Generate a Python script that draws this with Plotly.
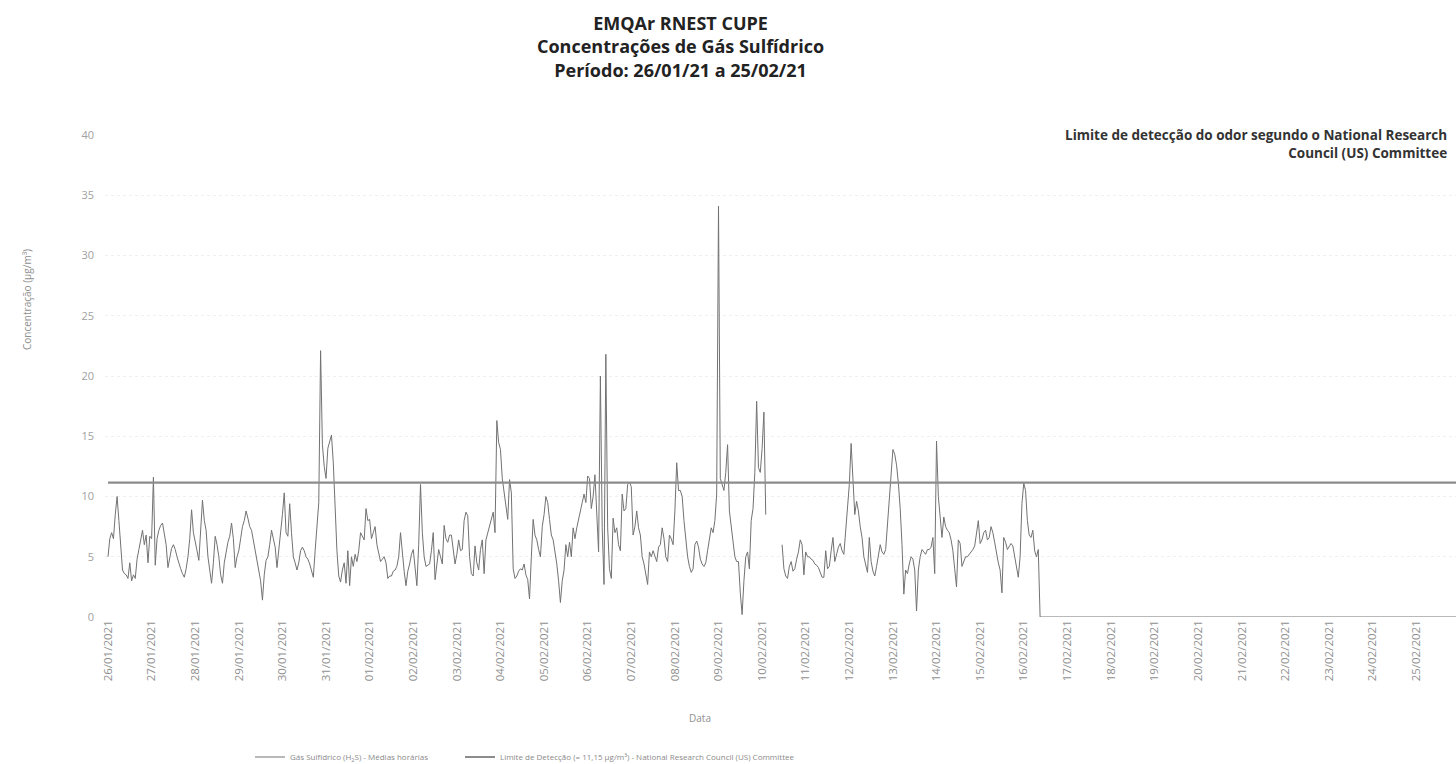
import pandas as pd
import plotly.graph_objects as go

# ---------------- data (hourly means, µg/m³) ----------------
day_labels = ["26/01/2021", "27/01/2021", "28/01/2021", "29/01/2021", "30/01/2021",
              "31/01/2021", "01/02/2021", "02/02/2021", "03/02/2021", "04/02/2021",
              "05/02/2021", "06/02/2021", "07/02/2021", "08/02/2021", "09/02/2021",
              "10/02/2021", "11/02/2021", "12/02/2021", "13/02/2021", "14/02/2021",
              "15/02/2021", "16/02/2021", "17/02/2021", "18/02/2021", "19/02/2021",
              "20/02/2021", "21/02/2021", "22/02/2021", "23/02/2021", "24/02/2021",
              "25/02/2021"]

d26_01 = [5.0, 6.5, 7.0, 6.5, 8.5, 10.0, 8.0, 5.5, 3.9, 3.6, 3.5, 3.2, 4.5, 3.0, 3.5, 3.2, 4.8, 5.6, 6.5, 7.2, 6.0, 6.8, 4.5, 6.7]
d27_01 = [6.5, 11.6, 4.3, 6.5, 7.2, 7.6, 7.8, 7.0, 6.0, 4.1, 5.0, 5.7, 6.0, 5.6, 5.0, 4.4, 4.0, 3.6, 3.3, 4.0, 5.0, 6.5, 8.9, 7.0]
d28_01 = [6.1, 5.5, 4.7, 7.5, 9.7, 8.0, 7.2, 5.0, 4.0, 2.8, 4.5, 6.7, 6.0, 5.0, 3.5, 2.8, 4.5, 5.5, 6.2, 6.7, 7.8, 6.5, 4.1, 5.0]
d29_01 = [5.5, 6.5, 7.5, 8.0, 8.8, 8.2, 7.5, 7.2, 6.3, 5.5, 4.5, 3.9, 3.0, 1.4, 3.5, 4.7, 5.0, 6.0, 7.2, 6.5, 5.8, 4.1, 5.5, 6.7]
d30_01 = [8.5, 10.3, 7.0, 6.7, 9.4, 7.0, 5.0, 4.5, 3.9, 4.5, 5.5, 5.8, 5.5, 5.0, 4.8, 4.4, 3.8, 3.3, 5.5, 7.2, 9.5, 22.1, 14.3, 12.5]
d31_01 = [11.5, 14.0, 14.5, 15.1, 12.8, 9.0, 5.5, 3.4, 2.9, 3.9, 4.5, 2.8, 5.5, 2.6, 5.0, 4.2, 5.2, 4.6, 5.5, 7.0, 6.7, 6.4, 9.0, 8.0]
d01_02 = [8.1, 6.5, 7.0, 7.5, 6.0, 5.4, 4.6, 4.8, 5.0, 4.5, 3.2, 3.4, 3.4, 3.8, 3.9, 4.2, 5.0, 7.0, 5.0, 3.8, 2.6, 3.8, 4.4, 5.2]
d02_02 = [5.6, 4.0, 2.6, 6.0, 11.0, 7.0, 5.0, 4.2, 4.3, 4.4, 5.5, 7.0, 3.1, 4.5, 5.6, 5.0, 4.4, 7.6, 6.5, 6.2, 6.8, 6.8, 5.5, 4.4]
d03_02 = [5.2, 6.4, 5.5, 5.6, 8.0, 8.7, 8.4, 5.0, 3.6, 3.4, 5.9, 4.5, 3.9, 5.6, 6.4, 3.6, 6.4, 7.0, 7.6, 8.3, 8.7, 7.0, 16.3, 14.5]
d04_02 = [13.9, 11.5, 10.3, 9.5, 8.1, 11.4, 10.3, 4.0, 3.2, 3.4, 3.8, 4.0, 3.9, 4.4, 3.5, 3.1, 1.5, 5.0, 8.1, 6.8, 6.4, 5.6, 5.0, 7.5]
d05_02 = [8.5, 10.0, 9.5, 8.1, 6.8, 6.4, 5.5, 4.4, 3.0, 1.2, 3.0, 3.9, 6.0, 5.0, 6.2, 5.0, 7.4, 6.5, 7.4, 8.2, 8.8, 9.5, 10.2, 9.5]
d06_02 = [11.7, 11.5, 9.0, 10.0, 11.8, 8.8, 5.4, 20.0, 7.4, 2.7, 21.8, 7.4, 4.0, 3.2, 8.2, 7.0, 7.4, 6.0, 5.5, 10.2, 8.8, 9.0, 11.0, 11.2]
d07_02 = [10.8, 6.8, 7.5, 8.8, 7.4, 6.8, 5.0, 4.4, 3.5, 2.7, 5.4, 5.0, 5.5, 5.0, 4.6, 5.8, 6.0, 7.4, 6.5, 5.0, 4.6, 6.8, 6.5, 6.0]
d08_02 = [8.8, 12.8, 10.5, 10.5, 10.0, 8.0, 6.5, 5.0, 4.2, 3.7, 4.0, 6.0, 6.3, 5.8, 4.8, 4.4, 4.2, 4.5, 5.5, 6.5, 7.4, 7.0, 8.0, 10.2]
d09_02 = [34.1, 11.5, 11.0, 10.5, 12.0, 14.3, 8.8, 7.4, 6.5, 5.0, 4.6, 4.6, 2.0, 0.2, 3.0, 5.0, 5.4, 4.0, 8.0, 9.0, 12.0, 17.9, 12.4, 12.0]
d10_02 = [14.0, 17.0, 8.5, None, None, None, None, None, None, None, None, 6.0, 4.0, 3.4, 3.2, 4.2, 4.6, 3.8, 4.0, 4.8, 5.4, 6.4, 6.0, 3.5]
d11_02 = [5.4, 5.0, 5.0, 4.8, 4.7, 4.4, 4.3, 4.1, 3.6, 3.3, 3.3, 5.5, 4.0, 4.2, 5.5, 6.6, 4.6, 5.2, 5.8, 6.1, 5.5, 5.2, 7.2, 9.0]
d12_02 = [11.0, 14.4, 11.0, 8.5, 9.6, 8.8, 7.5, 6.6, 5.0, 4.2, 3.7, 6.6, 4.6, 3.8, 3.4, 4.2, 5.0, 6.0, 5.4, 5.2, 5.6, 7.5, 9.8, 12.0]
d13_02 = [13.9, 13.5, 12.6, 11.1, 9.0, 6.0, 1.9, 3.9, 3.6, 4.4, 5.0, 4.8, 3.9, 0.5, 3.9, 5.0, 5.6, 5.4, 5.2, 5.6, 5.6, 5.8, 6.6, 3.6]
d14_02 = [14.6, 10.0, 8.5, 6.6, 8.3, 7.5, 7.2, 7.0, 6.4, 5.5, 4.0, 2.5, 6.4, 6.1, 4.2, 4.6, 5.0, 5.0, 5.2, 5.3, 5.6, 5.9, 7.0, 8.0]
d15_02 = [6.1, 6.4, 7.0, 7.2, 6.4, 6.6, 7.5, 7.0, 6.2, 5.3, 4.5, 3.9, 2.0, 6.6, 6.2, 5.6, 5.8, 6.1, 5.9, 5.0, 4.4, 3.3, 5.0, 9.4]
d16_02 = [11.1, 10.5, 8.0, 6.8, 6.6, 7.2, 5.5, 5.0, 5.6, 0, 0, 0, 0, 0, 0, 0, 0, 0, 0, 0, 0, 0, 0, 0]
d17_02 = [0, 0, 0, 0, 0, 0, 0, 0, 0, 0, 0, 0, 0, 0, 0, 0, 0, 0, 0, 0, 0, 0, 0, 0]
d18_02 = [0, 0, 0, 0, 0, 0, 0, 0, 0, 0, 0, 0, 0, 0, 0, 0, 0, 0, 0, 0, 0, 0, 0, 0]
d19_02 = [0, 0, 0, 0, 0, 0, 0, 0, 0, 0, 0, 0, 0, 0, 0, 0, 0, 0, 0, 0, 0, 0, 0, 0]
d20_02 = [0, 0, 0, 0, 0, 0, 0, 0, 0, 0, 0, 0, 0, 0, 0, 0, 0, 0, 0, 0, 0, 0, 0, 0]
d21_02 = [0, 0, 0, 0, 0, 0, 0, 0, 0, 0, 0, 0, 0, 0, 0, 0, 0, 0, 0, 0, 0, 0, 0, 0]
d22_02 = [0, 0, 0, 0, 0, 0, 0, 0, 0, 0, 0, 0, 0, 0, 0, 0, 0, 0, 0, 0, 0, 0, 0, 0]
d23_02 = [0, 0, 0, 0, 0, 0, 0, 0, 0, 0, 0, 0, 0, 0, 0, 0, 0, 0, 0, 0, 0, 0, 0, 0]
d24_02 = [0, 0, 0, 0, 0, 0, 0, 0, 0, 0, 0, 0, 0, 0, 0, 0, 0, 0, 0, 0, 0, 0, 0, 0]
d25_02 = [0, 0, 0, 0, 0, 0, 0, 0, 0, 0, 0, 0, 0, 0, 0, 0, 0, 0, 0, 0, 0, 0, 0, 0]

LIMITE = 11.15  # µg/m³
y_ticks = [0, 5, 10, 15, 20, 25, 30, 35, 40]

# ---------------- assemble ----------------
days = [d26_01, d27_01, d28_01, d29_01, d30_01, d31_01, d01_02, d02_02, d03_02, d04_02,
        d05_02, d06_02, d07_02, d08_02, d09_02, d10_02, d11_02, d12_02, d13_02, d14_02,
        d15_02, d16_02, d17_02, d18_02, d19_02, d20_02, d21_02, d22_02, d23_02, d24_02,
        d25_02]
values = [v for d in days for v in d]
times = pd.date_range("2021-01-26 00:00", periods=len(values), freq="h")
tick_times = pd.to_datetime(day_labels, format="%d/%m/%Y")

x_start = pd.Timestamp("2021-01-26 00:00") - pd.Timedelta(minutes=99)
x_end = pd.Timestamp("2021-02-25 21:54")

# pixel layout helpers (figure 1456 x 764)
L, T, B = 105, 135, 147
PW, PH = 1456 - L, 764 - T - B
def px(x):
    return (x - L) / PW
def py(y):
    return (764 - B - y) / PH

GREY_TXT = "#8f8f8f"
FONT = "Open Sans"
LEG_FONT = dict(family=FONT, size=8, color="#8a8a8a")

fig = go.Figure()
fig.add_trace(go.Scatter(
    x=times, y=values, mode="lines",
    line=dict(color="#727272", width=1),
    connectgaps=False, legend="legend",
    name="Gás Sulfídrico (H<sub>2</sub>S) - Médias horárias",
))
fig.add_trace(go.Scatter(
    x=[times[0], times[-1]], y=[LIMITE, LIMITE], mode="lines",
    line=dict(color="#8c8c8c", width=2.2), legend="legend2",
    name="Limite de Detecção (= 11,15 µg/m³) - National Research Council (US) Committee",
))

fig.update_layout(
    width=1456, height=764,
    paper_bgcolor="white", plot_bgcolor="white",
    margin=dict(l=L, r=0, t=T, b=B, autoexpand=False),
    font=dict(family=FONT, color=GREY_TXT, size=9),
    showlegend=True,
    legend=dict(
        orientation="h", x=px(250), y=py(757), xanchor="left", yanchor="middle",
        font=LEG_FONT, bgcolor="rgba(0,0,0,0)", itemwidth=30,
    ),
    legend2=dict(
        orientation="h", x=px(460), y=py(757), xanchor="left", yanchor="middle",
        font=LEG_FONT, bgcolor="rgba(0,0,0,0)", itemwidth=30,
    ),
    xaxis=dict(
        range=[x_start, x_end],
        tickmode="array", tickvals=tick_times, ticktext=day_labels,
        tickangle=-90, tickfont=dict(size=11.5, color=GREY_TXT),
        showgrid=False, zeroline=False, showline=False, ticks="",
    ),
    yaxis=dict(
        range=[0, 40], tickvals=y_ticks,
        tickfont=dict(size=11, color="#a0a0a0"),
        showgrid=True, gridcolor="#efefef", griddash="dot", gridwidth=1,
        zeroline=False, showline=False, ticks="", ticklabelstandoff=10,
    ),
    annotations=[
        dict(text="<b>EMQAr RNEST CUPE</b><br><b>Concentrações de Gás Sulfídrico</b><br><b>Período: 26/01/21 a 25/02/21</b>",
             xref="paper", yref="paper", x=px(680), y=py(46),
             xanchor="center", yanchor="middle", align="center", showarrow=False,
             font=dict(family=FONT, size=18, color="#222222")),
        dict(text="<b>Limite de detecção do odor segundo o National Research</b><br><b>Council (US) Committee</b>",
             xref="paper", yref="paper", x=px(1449), y=py(143.5),
             xanchor="right", yanchor="middle", align="right", showarrow=False,
             font=dict(family=FONT, size=13.5, color="#333333")),
        dict(text="Data", xref="paper", yref="paper",
             x=px(700), y=py(718),
             xanchor="center", yanchor="middle", showarrow=False,
             font=dict(family=FONT, size=10, color=GREY_TXT)),
        dict(text="Concentração (µg/m³)", xref="paper", yref="paper",
             x=px(27), y=py(300), textangle=-90,
             xanchor="center", yanchor="middle", showarrow=False,
             font=dict(family=FONT, size=10, color=GREY_TXT)),
    ],
)

fig.write_html("out.html",
               config={"displayModeBar": False},
               post_script="document.body.style.margin='0px';document.body.style.overflow='hidden';")
